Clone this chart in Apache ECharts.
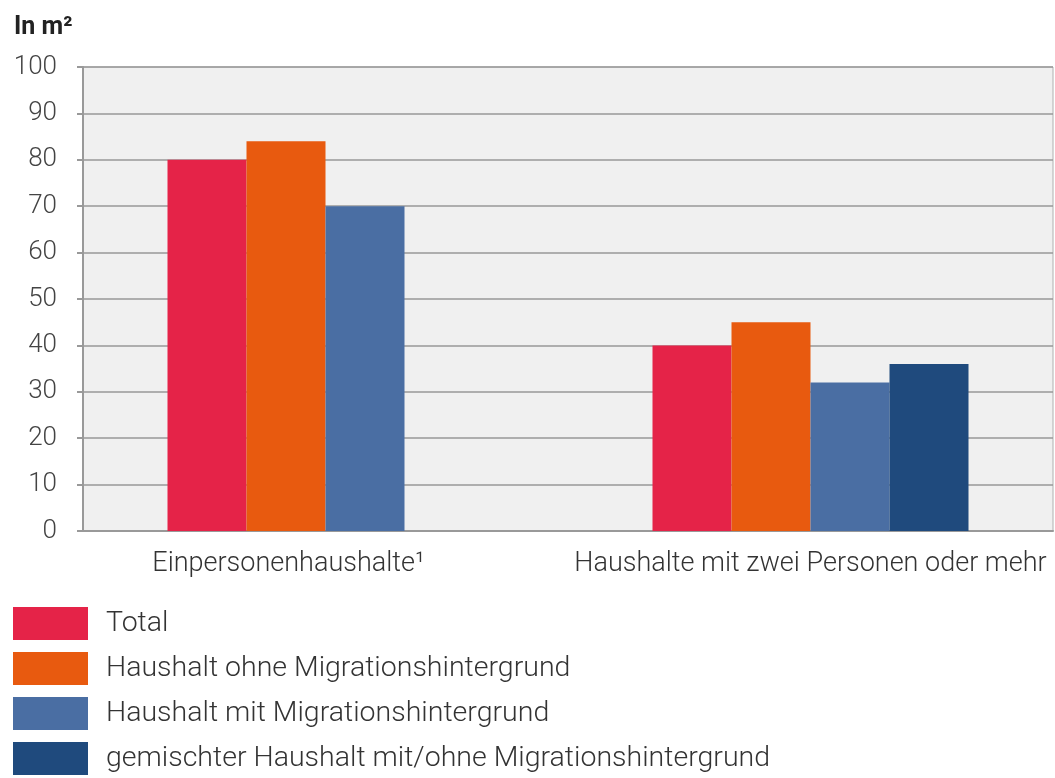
<!DOCTYPE html>
<html>
<head>
<meta charset="utf-8">
<script src="https://cdn.jsdelivr.net/npm/echarts@6/dist/echarts.min.js"></script>
<style>
  html, body { margin: 0; padding: 0; background: #fff; }
  #chart { width: 1055px; height: 778px; }
</style>
</head>
<body>
<div id="chart"></div>
<script>
const categories = ["Einpersonenhaushalte¹", "Haushalte mit zwei Personen oder mehr"];
const seriesNames = [
  "Total",
  "Haushalt ohne Migrationshintergrund",
  "Haushalt mit Migrationshintergrund",
  "gemischter Haushalt mit/ohne Migrationshintergrund"
];
const total = [80, 40];
const ohne = [84, 45];
const mit = [70, 32];
const gemischt = [null, 36];
const colors = ["#e52348", "#e85a0f", "#4a6ea3", "#1f4a7d"];

const font = "Roboto";
const chart = echarts.init(document.getElementById("chart"));

const catLabel = { fontFamily: font, fontSize: 27, fontWeight: 300, color: "#333" };

const makeBar = (name, data, color) => ({
  name: name,
  type: "bar",
  data: data,
  barWidth: 79,
  barGap: "0%",
  itemStyle: { color: color },
  emphasis: { disabled: true }
});

chart.setOption({
  animation: false,
  textStyle: { fontFamily: font },
  title: {
    text: "In m²",
    left: 9,
    top: 10,
    textStyle: { fontFamily: font, fontSize: 25, fontWeight: "bold", color: "#222" }
  },
  grid: {
    left: 83,
    right: 2,
    top: 67,
    bottom: 247,
    show: true,
    backgroundColor: "#f0f0f0",
    borderColor: "#b0b0b0",
    borderWidth: 1
  },
  legend: {
    orient: "vertical",
    left: 8,
    top: 602,
    height: 176,
    itemWidth: 75,
    itemHeight: 33,
    itemGap: 12,
    icon: "rect",
    selectedMode: false,
    data: seriesNames,
    textStyle: { fontFamily: font, fontSize: 28.5, fontWeight: 300, color: "#333", padding: [0, 0, 0, 13] }
  },
  xAxis: {
    type: "category",
    data: [
      { value: categories[0], textStyle: Object.assign({ padding: [0, 74, 0, 0] }, catLabel) },
      categories[1]
    ],
    axisLine: { lineStyle: { color: "#999", width: 2 } },
    axisTick: { show: false },
    axisLabel: Object.assign({ interval: 0, margin: 20 }, catLabel)
  },
  yAxis: {
    type: "value",
    min: 0,
    max: 100,
    interval: 10,
    axisLine: { show: true, lineStyle: { color: "#999", width: 2 } },
    axisTick: { show: true, length: 6, lineStyle: { color: "#999", width: 2 } },
    splitLine: { lineStyle: { color: "#999", width: 1.5 } },
    axisLabel: { fontFamily: font, fontSize: 26, fontWeight: 300, color: "#444", margin: 26 }
  },
  series: [
    makeBar(seriesNames[0], total, colors[0]),
    makeBar(seriesNames[1], ohne, colors[1]),
    makeBar(seriesNames[2], mit, colors[2]),
    makeBar(seriesNames[3], gemischt, colors[3])
  ]
});
</script>
</body>
</html>
